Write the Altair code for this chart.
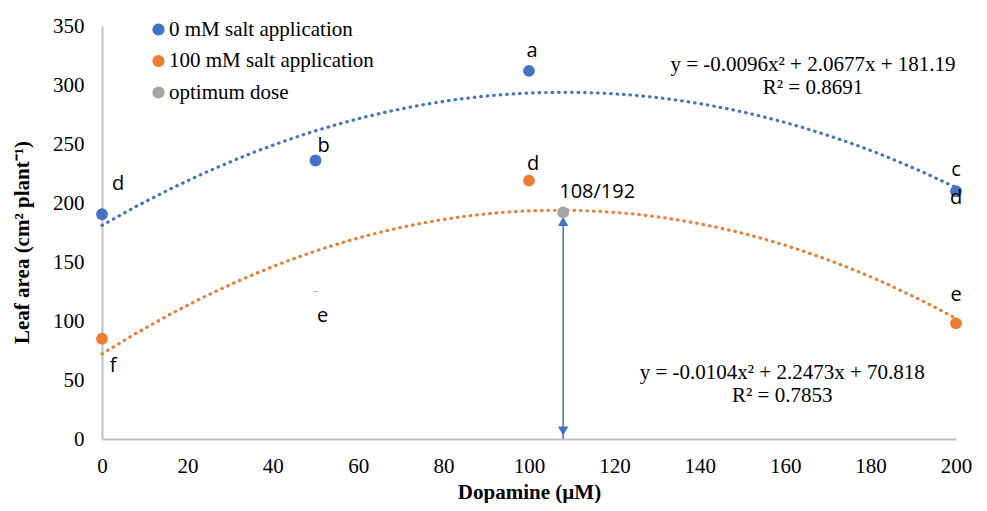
import altair as alt
import pandas as pd

# ---- data ----
doses = [0, 50, 100, 200]
salt0 = [190.5, 236, 312, 210]
salt100 = [85, 125, 219, 98]
opt_x = [108]
opt_y = [192]
series_names = ["0 mM salt application", "100 mM salt application", "optimum dose"]
colors = ["#4472C4", "#ED7D31", "#A5A5A5"]

eq_blue = "y = -0.0096x² + 2.0677x + 181.19\nR² = 0.8691"
eq_orange = "y = -0.0104x² + 2.2473x + 70.818\nR² = 0.7853"
eq_blue_pos = [166.5, 317]
eq_orange_pos = [159.3, 56]

# letters: (text, x, y, dx, dy)
letters = [
    ("d", 0, 190.5, 16, -30),
    ("b", 50, 236, 8, -15),
    ("a", 100, 312, 3, -20),
    ("c", 200, 210, 0, -21),
    ("d", 200, 210, 0, 7),
    ("d", 100, 219, 4, -17),
    ("e", 50, 125, 7, 24),
    ("f", 0, 85, 11, 27),
    ("e", 200, 98, 0, -28),
    ("108/192", 108, 192, 34, -20),
]

main = pd.DataFrame({
    "dose": doses * 2,
    "area": salt0 + salt100,
    "series": [series_names[0]] * 4 + [series_names[1]] * 4,
})
opt = pd.DataFrame({"dose": opt_x, "area": opt_y, "series": [series_names[2]]})
pts = pd.concat([main, opt], ignore_index=True)

xs = alt.Scale(domain=[0, 200], nice=False)
ys = alt.Scale(domain=[0, 350], nice=False)
cs = alt.Scale(domain=series_names, range=colors)

legend = alt.Legend(title=None, orient="none", legendX=46, legendY=-7,
                    labelFont="Liberation Serif", labelFontSize=21, labelLimit=0,
                    labelColor="#000000", symbolSize=150,
                    symbolType="circle", rowPadding=9.5,
                    labelOffset=0, padding=0, symbolStrokeWidth=0)

X = alt.X("dose:Q", scale=xs, title="Dopamine (µM)",
          axis=alt.Axis(values=list(range(0, 201, 20)), grid=False, ticks=False,
                        labelFlush=False, labelPadding=16,
                        titleY=63, titleBaseline="bottom"))
Y = alt.Y("area:Q", scale=ys, title="Leaf area (cm² plant⁻¹)",
          axis=alt.Axis(values=list(range(0, 351, 50)), grid=False, ticks=False,
                        labelFlush=False, labelPadding=18,
                        titleX=-80, titleY=216, titleBaseline="middle"))

trend = alt.Chart(main).transform_regression(
    "dose", "area", method="poly", order=2, groupby=["series"], extent=[0, 200]
).mark_line(strokeDash=[0.5, 6], strokeCap="round", strokeWidth=3.2).encode(
    x=alt.X("dose:Q", scale=xs),
    y=alt.Y("area:Q", scale=ys),
    color=alt.Color("series:N", scale=cs, sort=series_names, legend=legend),
    detail="series:N",
)

# hidden 100 mM point at 50 µM shows as a tiny dash
hidden = pd.DataFrame({"dose": [doses[1]], "area": [salt100[1]]})
dash = alt.Chart(hidden).mark_tick(orient="horizontal", size=5, thickness=1,
                                   color="#ED7D31", opacity=0.6).encode(
    x=alt.X("dose:Q", scale=xs), y=alt.Y("area:Q", scale=ys))

visible = pts[~((pts["dose"] == 50) & (pts["series"] == series_names[1]))]
points = alt.Chart(visible).mark_circle(size=140, opacity=1).encode(
    x=X, y=Y,
    color=alt.Color("series:N", scale=cs, sort=series_names, legend=legend),
)

arrow_color = "#4472C4"
arrow = alt.Chart(opt).mark_rule(color=arrow_color, strokeWidth=1.5).encode(
    x=alt.X("dose:Q", scale=xs), y=alt.Y("area:Q", scale=ys), y2=alt.datum(0))
tri_up = alt.Chart(opt).mark_point(shape="triangle-up", filled=True, size=110,
                                   color=arrow_color, opacity=1, yOffset=9).encode(
    x=alt.X("dose:Q", scale=xs), y=alt.Y("area:Q", scale=ys))
tri_down = alt.Chart(opt).mark_point(shape="triangle-down", filled=True, size=110,
                                     color=arrow_color, opacity=1, yOffset=-8).encode(
    x=alt.X("dose:Q", scale=xs), y=alt.datum(0))

layers = [trend, arrow, tri_up, tri_down, dash, points]

for txt, lx, ly, dx, dy in letters:
    d = pd.DataFrame({"dose": [lx], "area": [ly], "t": [txt]})
    layers.append(alt.Chart(d).mark_text(font="Open Sans", fontSize=20, color="#000000",
                                         dx=dx, dy=dy, align="center", baseline="middle").encode(
        x=alt.X("dose:Q", scale=xs), y=alt.Y("area:Q", scale=ys), text="t:N"))

for eq, pos in [(eq_blue, eq_blue_pos), (eq_orange, eq_orange_pos)]:
    d = pd.DataFrame({"dose": [pos[0]], "area": [pos[1]], "t": [eq]})
    layers.append(alt.Chart(d).mark_text(font="Liberation Serif", fontSize=21, color="#000000",
                                         lineBreak="\n", lineHeight=23, align="center",
                                         baseline="middle").encode(
        x=alt.X("dose:Q", scale=xs), y=alt.Y("area:Q", scale=ys), text="t:N"))

chart = alt.layer(*layers).properties(
    width=854, height=413,
    autosize=alt.AutoSizeParams(type="none"),
    padding={"left": 94, "top": 18, "right": 20, "bottom": 64},
).configure_view(stroke=None).configure_axis(
    domainColor="#BFBFBF", domainWidth=2,
    labelFont="Liberation Serif", labelFontSize=21, labelColor="#000000",
    titleFont="Liberation Serif", titleFontSize=21, titleFontWeight="bold", titleColor="#000000",
)

chart.save("out.html", embed_options={"renderer": "svg", "actions": False})
